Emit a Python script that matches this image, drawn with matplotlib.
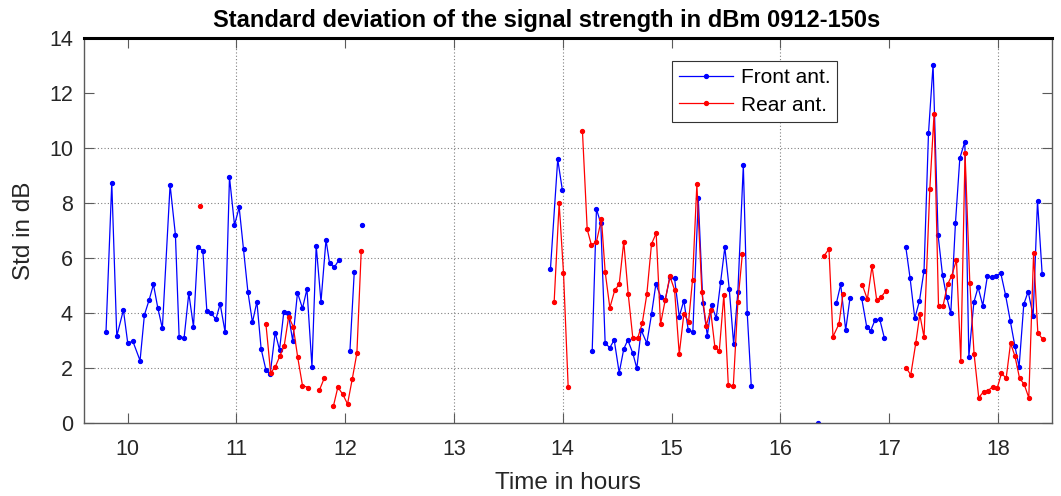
#!/usr/bin/env python3
"""Std of signal strength (front vs rear antenna), MATLAB-style line plot."""

import matplotlib

matplotlib.use("Agg")
import matplotlib.pyplot as plt
import numpy as np

nan = np.nan

# time in hours / std in dB, nan marks a gap in the record
front_t = [
    9.802, 9.855, 9.901, 9.962, 10.002, 10.048, 10.115, 10.155, 10.198, 10.238,
    10.278, 10.320, 10.391, 10.440, 10.474, 10.520, 10.563, 10.606, 10.646, 10.692,
    10.729, 10.768, 10.812, 10.851, 10.897, 10.937, 10.983, 11.026, 11.066, 11.106,
    11.148, 11.189, 11.228, 11.272, 11.311, 11.357, 11.397, 11.436, 11.477, 11.518,
    11.562, 11.608, 11.649, 11.695, 11.734, 11.778, 11.824, 11.857, 11.900, 11.943,
    nan, 12.044, 12.084, nan, 12.158, nan,
    13.887, 13.954, 13.997, nan,
    14.271, 14.310, 14.350, 14.390, 14.433, 14.473, 14.519, 14.561, 14.598, 14.644,
    14.681, 14.721, 14.773, 14.816, 14.856, 14.902, 14.942, 14.985, 15.028, 15.071,
    15.113, 15.154, 15.196, 15.246, 15.288, 15.329, 15.368, 15.411, 15.451, 15.490,
    15.531, 15.571, 15.610, 15.660, 15.696, 15.733, nan,
    16.346, nan,
    16.515, 16.555, 16.601, 16.641, nan,
    16.748, 16.794, 16.831, 16.871, 16.914, 16.957, nan,
    17.153, 17.193, 17.236, 17.279, 17.321, 17.362, 17.404, 17.450, 17.491, 17.530,
    17.567, 17.610, 17.650, 17.696, 17.733, 17.779, 17.818, 17.861, 17.904, 17.944,
    17.987, 18.027, 18.070, 18.113, 18.156, 18.195, 18.238, 18.278, 18.324, 18.364,
    18.407,
]
front_std = [
    3.33, 8.75, 3.17, 4.12, 2.91, 2.99, 2.28, 3.94, 4.48, 5.05,
    4.20, 3.45, 8.67, 6.85, 3.15, 3.11, 4.73, 3.51, 6.40, 6.28,
    4.08, 4.00, 3.78, 4.34, 3.31, 8.95, 7.21, 7.85, 6.33, 4.79,
    3.67, 4.42, 2.70, 1.94, 1.79, 3.30, 2.67, 4.04, 4.00, 3.00,
    4.75, 4.18, 4.88, 2.06, 6.46, 4.42, 6.67, 5.82, 5.67, 5.94,
    nan, 2.63, 5.51, nan, 7.21, nan,
    5.60, 9.60, 8.47, nan,
    2.64, 7.79, 7.27, 2.91, 2.75, 3.03, 1.84, 2.70, 3.03, 2.55,
    2.00, 3.39, 2.91, 3.96, 5.06, 4.60, 4.48, 5.31, 5.27, 3.88,
    4.46, 3.39, 3.33, 8.18, 4.39, 3.19, 4.30, 3.82, 5.13, 6.40,
    4.87, 2.88, 4.79, 9.39, 4.00, 1.36, nan,
    0.00, nan,
    4.36, 5.05, 3.39, 4.57, nan,
    4.55, 3.51, 3.37, 3.76, 3.78, 3.09, nan,
    6.42, 5.27, 3.82, 4.45, 5.55, 10.55, 13.03, 6.85, 5.39, 4.58,
    4.00, 7.29, 9.64, 10.24, 2.42, 4.40, 4.95, 4.28, 5.37, 5.31,
    5.37, 5.45, 4.67, 3.73, 2.81, 2.06, 4.33, 4.79, 3.91, 8.09,
    5.42,
]

rear_t = [
    10.667, nan,
    11.272, 11.315, 11.357, 11.400, 11.440, 11.481, 11.523, 11.564, 11.608, 11.663, nan,
    11.764, 11.810, nan,
    11.893, 11.933, 11.979, 12.022, 12.065, 12.108, 12.148, nan,
    13.921, 13.967, 14.007, 14.050, nan,
    14.181, 14.225, 14.264, 14.310, 14.356, 14.390, 14.433, 14.479, 14.519, 14.561,
    14.602, 14.644, 14.690, 14.731, 14.773, 14.816, 14.859, 14.899, 14.942, 14.985,
    15.028, 15.071, 15.113, 15.157, 15.193, 15.233, 15.279, 15.319, 15.359, 15.398,
    15.439, 15.481, 15.522, 15.568, 15.610, 15.651, nan,
    16.401, 16.447, 16.484, 16.539, 16.576, nan,
    16.754, 16.800, 16.843, 16.886, 16.929, 16.969, nan,
    17.159, 17.199, 17.245, 17.282, 17.321, 17.374, 17.413, 17.454, 17.496, 17.537,
    17.576, 17.619, 17.659, 17.698, 17.742, 17.781, 17.824, 17.868, 17.910, 17.953,
    17.993, 18.033, 18.076, 18.116, 18.156, 18.199, 18.241, 18.284, 18.328, 18.367,
    18.413,
]
rear_std = [
    7.90, nan,
    3.61, 1.84, 2.04, 2.45, 2.82, 3.88, 3.51, 2.40, 1.37, 1.30, nan,
    1.21, 1.66, nan,
    0.64, 1.31, 1.05, 0.70, 1.60, 2.55, 6.28, nan,
    4.40, 8.00, 5.48, 1.33, nan,
    10.64, 7.05, 6.48, 6.60, 7.42, 5.51, 4.20, 4.85, 5.05, 6.60,
    4.70, 3.11, 3.11, 3.64, 4.69, 6.52, 6.91, 3.60, 4.48, 5.35,
    4.85, 2.52, 3.96, 3.70, 5.21, 8.69, 4.76, 3.55, 4.12, 2.79,
    2.63, 4.67, 1.39, 1.36, 4.42, 6.15, nan,
    6.08, 6.34, 3.15, 3.61, 4.70, nan,
    5.03, 4.51, 5.72, 4.48, 4.60, 4.81, nan,
    2.00, 1.76, 2.91, 3.96, 3.13, 8.51, 11.24, 4.28, 4.27, 5.05,
    5.37, 5.94, 2.28, 9.82, 5.09, 2.52, 0.93, 1.15, 1.19, 1.33,
    1.27, 1.82, 1.64, 2.91, 2.45, 1.64, 1.42, 0.93, 6.18, 3.29,
    3.05,
]

x_ticks = [10, 11, 12, 13, 14, 15, 16, 17, 18]
y_ticks = [0, 2, 4, 6, 8, 10, 12, 14]

# gridlines that survive in the reference raster
GRID_X = [11, 13, 14, 16, 18]
GRID_Y = [2, 4, 6, 8, 10]

AXIS_GREY = "#5a5a5a"
TEXT_GREY = "#262626"

plt.rcParams["font.family"] = ["Liberation Sans", "DejaVu Sans"]

fig = plt.figure(figsize=(10.61, 4.96), dpi=100)
ax = fig.add_axes([0.0792, 0.1466, 0.9126, 0.7762])

for gx in GRID_X:
    ax.axvline(gx, color="#808080", ls=(0, (1, 2)), lw=0.8, zorder=0)
for gy in GRID_Y:
    ax.axhline(gy, color="#808080", ls=(0, (1, 2)), lw=0.8, zorder=0)

ax.plot(front_t, front_std, color="#0000ff", lw=0.9, marker="o", ms=2.8,
        mec="#0000ff", mfc="#0000ff", label="Front ant.")
ax.plot(rear_t, rear_std, color="#ff0000", lw=0.9, marker="o", ms=2.8,
        mec="#ff0000", mfc="#ff0000", label="Rear ant.")

ax.set_xlim(9.6, 18.5)
ax.set_ylim(0, 14)
ax.set_xticks(x_ticks)
ax.set_yticks(y_ticks)

ax.tick_params(direction="in", length=7, width=0.8, color=AXIS_GREY,
               labelsize=15.5, labelcolor=TEXT_GREY, top=True, right=True)
ax.tick_params(axis="x", pad=11)
ax.tick_params(axis="y", pad=8)
for side in ("left", "right", "bottom"):
    ax.spines[side].set_color(AXIS_GREY)
    ax.spines[side].set_linewidth(1.0)
ax.spines["top"].set_color("black")
ax.spines["top"].set_linewidth(2.2)

ax.set_title("Standard deviation of the signal strength in dBm 0912-150s",
             fontsize=17, fontweight="bold", pad=8, x=0.478)
ax.set_xlabel("Time in hours", fontsize=17.5, color=TEXT_GREY, labelpad=9)
ax.set_ylabel("Std in dB", fontsize=17.5, color=TEXT_GREY, labelpad=10)

leg = ax.legend(loc="upper left", bbox_to_anchor=(0.607, 0.942), fontsize=15,
                handlelength=2.6, handletextpad=0.35, labelspacing=0.42,
                borderpad=0.35, borderaxespad=0, fancybox=False, framealpha=1)
leg.get_frame().set_edgecolor("#333333")
leg.get_frame().set_linewidth(0.8)

fig.savefig("out.png", dpi=100)
